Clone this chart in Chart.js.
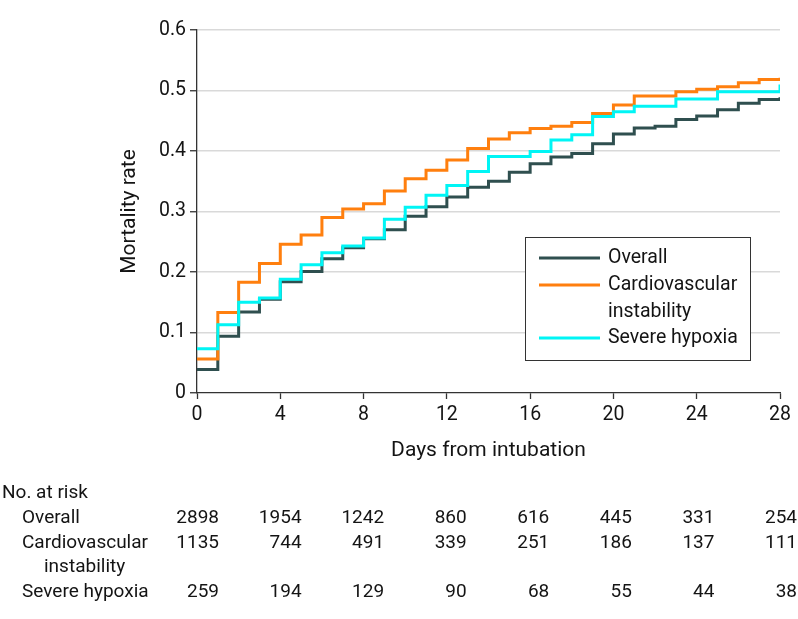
<!DOCTYPE html>
<html lang="en">
<head>
    <meta charset="UTF-8">
    <title>Mortality rate by days from intubation</title>
    <script src="https://cdn.jsdelivr.net/npm/chart.js"></script>
    <style>
        html, body { margin: 0; padding: 0; background: #fff; }
        .chart-box { width: 798px; height: 619px; position: relative; }
    </style>
</head>
<body>
    <div class="chart-box">
        <canvas id="kmChart"></canvas>
    </div>

    <script>
        // Days from intubation (step start of each interval)
        const days = [0, 1, 2, 3, 4, 5, 6, 7, 8, 9, 10, 11, 12, 13, 14, 15, 16, 17, 18, 19, 20, 21, 22, 23, 24, 25, 26, 27, 28];

        // Mortality rate
        const overall = [0.039, 0.094, 0.134, 0.155, 0.184, 0.201, 0.222, 0.240, 0.255, 0.270, 0.292, 0.308, 0.324, 0.340, 0.350,
            0.365, 0.379, 0.390, 0.396, 0.412, 0.428, 0.438, 0.441, 0.452, 0.458, 0.468, 0.479, 0.485, 0.489];
        const cardio = [0.056, 0.133, 0.183, 0.214, 0.246, 0.261, 0.290, 0.304, 0.313, 0.334, 0.354, 0.368, 0.385, 0.404, 0.420,
            0.430, 0.437, 0.441, 0.447, 0.462, 0.476, 0.491, 0.491, 0.498, 0.502, 0.506, 0.513, 0.518, 0.521];
        const hypoxia = [0.073, 0.113, 0.150, 0.157, 0.188, 0.212, 0.232, 0.243, 0.256, 0.287, 0.307, 0.327, 0.343, 0.366, 0.391,
            0.391, 0.399, 0.418, 0.427, 0.457, 0.465, 0.474, 0.474, 0.486, 0.486, 0.498, 0.498, 0.498, 0.510];

        const seriesNames = ['Overall', 'Cardiovascular instability', 'Severe hypoxia'];
        const colors = ['#2f4f4f', '#ff7f0e', '#00f5f5'];

        // No. at risk table
        const riskDays = [0, 4, 8, 12, 16, 20, 24, 28];
        const riskOverall = [2898, 1954, 1242, 860, 616, 445, 331, 254];
        const riskCardio = [1135, 744, 491, 339, 251, 186, 137, 111];
        const riskHypoxia = [259, 194, 129, 90, 68, 55, 44, 38];

        const FONT = 'Roboto, "Liberation Sans", sans-serif';
        const TEXT = '#141414';

        const toPoints = vals => days.map((d, i) => ({ x: d, y: vals[i] }));

        // draws titles, legend box and the risk table
        const extrasPlugin = {
            id: 'extras',
            afterDraw(chart) {
                const ctx = chart.ctx;
                const xs = chart.scales.x;
                const area = chart.chartArea;
                ctx.save();
                ctx.fillStyle = TEXT;

                // axis titles
                ctx.font = '21px ' + FONT;
                ctx.textAlign = 'center';
                ctx.textBaseline = 'alphabetic';
                ctx.fillText('Days from intubation', (area.left + area.right) / 2, 456);
                ctx.save();
                ctx.translate(135, (area.top + area.bottom) / 2);
                ctx.rotate(-Math.PI / 2);
                ctx.fillText('Mortality rate', 0, 0);
                ctx.restore();

                // legend
                ctx.fillStyle = '#fff';
                ctx.fillRect(525, 237, 225, 123);
                ctx.strokeStyle = '#333';
                ctx.lineWidth = 1;
                ctx.strokeRect(525.5, 237.5, 225, 123);
                const legendRows = [
                    { y: 258, lines: ['Overall'] },
                    { y: 285, lines: ['Cardiovascular', 'instability'] },
                    { y: 338, lines: ['Severe hypoxia'] }
                ];
                ctx.font = '19.5px ' + FONT;
                ctx.textAlign = 'left';
                ctx.textBaseline = 'middle';
                legendRows.forEach((row, i) => {
                    ctx.strokeStyle = colors[i];
                    ctx.lineWidth = 3;
                    ctx.beginPath();
                    ctx.moveTo(539, row.y);
                    ctx.lineTo(600, row.y);
                    ctx.stroke();
                    ctx.fillStyle = TEXT;
                    row.lines.forEach((t, j) => ctx.fillText(t, 608, row.y + j * 27));
                });

                // no. at risk
                ctx.font = '19px ' + FONT;
                ctx.textBaseline = 'alphabetic';
                ctx.fillText('No. at risk', 2, 498);
                ctx.fillText('Overall', 22, 523);
                ctx.fillText('Cardiovascular', 22, 548);
                ctx.fillText('instability', 44, 572);
                ctx.fillText('Severe hypoxia', 22, 597);
                ctx.textAlign = 'right';
                const rows = [[riskOverall, 523], [riskCardio, 548], [riskHypoxia, 597]];
                rows.forEach(([vals, y]) => {
                    riskDays.forEach((d, i) => {
                        const px = xs.getPixelForValue(d) + 22 - 5 * d / 28;
                        ctx.fillText(String(vals[i]), px, y);
                    });
                });
                ctx.restore();
            }
        };

        const ctx = document.getElementById('kmChart').getContext('2d');
        const kmChart = new Chart(ctx, {
            type: 'line',
            data: {
                datasets: [
                    { label: seriesNames[0], data: toPoints(overall), borderColor: colors[0], order: 2 },
                    { label: seriesNames[1], data: toPoints(cardio), borderColor: colors[1], order: 1 },
                    { label: seriesNames[2], data: toPoints(hypoxia), borderColor: colors[2], order: 0 }
                ]
            },
            options: {
                responsive: true,
                maintainAspectRatio: false,
                animation: false,
                layout: { padding: { left: 0, right: 18, top: 30, bottom: 0 } },
                elements: {
                    line: { stepped: true, borderWidth: 3, tension: 0, fill: false },
                    point: { radius: 0 }
                },
                plugins: {
                    legend: { display: false },
                    tooltip: { enabled: false }
                },
                scales: {
                    x: {
                        type: 'linear',
                        min: 0,
                        max: 28,
                        afterFit: s => { s.height = 226; },
                        ticks: { stepSize: 4, color: TEXT, font: { family: FONT, size: 19.5 }, padding: 4, maxRotation: 0 },
                        grid: { drawOnChartArea: false, drawTicks: true, tickLength: 6, tickColor: '#333', tickWidth: 1.3 },
                        border: { color: '#333', width: 1.3 }
                    },
                    y: {
                        min: 0,
                        max: 0.6,
                        afterFit: s => { s.width = 197; },
                        ticks: { stepSize: 0.1, color: TEXT, font: { family: FONT, size: 19.5 }, padding: 4,
                            callback: v => v === 0 ? '0' : v.toFixed(1) },
                        grid: { color: ctx => ctx.tick && ctx.tick.value === 0 ? 'rgba(0,0,0,0)' : '#d9d9d9', lineWidth: 1.5,
                            tickLength: 7, tickColor: '#333', tickWidth: 1.3 },
                        border: { color: '#333', width: 1.3 }
                    }
                }
            },
            plugins: [extrasPlugin]
        });
    </script>
</body>
</html>
